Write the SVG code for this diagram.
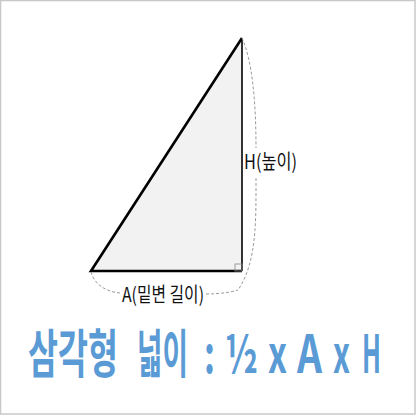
<svg xmlns="http://www.w3.org/2000/svg" width="416" height="416" viewBox="0 0 416 416">
<style>
.dash{fill:none;stroke:#9a9a9a;stroke-width:1;stroke-dasharray:3 2}
.lbl{font-family:"Noto Sans CJK KR","Noto Sans",sans-serif;font-size:20px;fill:#111}
.title{font-family:"Noto Sans CJK KR","Noto Sans",sans-serif;font-size:52px;font-weight:bold;fill:#5b9bd5}
</style>
<rect x="0.5" y="0.5" width="414.5" height="413.5" fill="#fff" stroke="#c8c8c8" stroke-width="1.5"/>
<g id="triangle">
<polygon points="91,271 242,271 242,38" fill="#f2f2f2" stroke="none"/>
<line x1="242" y1="38" x2="242" y2="271" stroke="#000" stroke-width="1.6"/>
<polyline points="242,38 91,271 242,271" fill="none" stroke="#000" stroke-width="2.6" stroke-linejoin="miter"/>
<rect x="235" y="264" width="7" height="7" fill="none" stroke="#888" stroke-width="0.8"/>
</g>
<g id="connectors">
<path class="dash" d="M242,38 C252,60 256,100 256,148"/>
<path class="dash" d="M256,178 C256,220 257,262 238,290"/>
<path class="dash" d="M91,272 C95,286 108,292 120,293"/>
<path class="dash" d="M206,294 C220,294 232,292 238,290"/>
</g>
<g id="label-h">
<text class="lbl" x="244" y="169" textLength="53" lengthAdjust="spacingAndGlyphs">H(높이)</text>
</g>
<g id="label-a">
<text class="lbl" x="122" y="302" textLength="82" lengthAdjust="spacingAndGlyphs">A(밑변 길이)</text>
</g>
<g id="formula">
<text class="title" x="28" y="373" textLength="90" lengthAdjust="spacingAndGlyphs">삼각형</text>
<text class="title" x="137" y="373" textLength="51" lengthAdjust="spacingAndGlyphs">넓이</text>
<text class="title" x="204" y="373" textLength="11" lengthAdjust="spacingAndGlyphs">:</text>
<text class="title" x="225" y="373" textLength="33" lengthAdjust="spacingAndGlyphs">½</text>
<text class="title" x="268" y="373" textLength="19" lengthAdjust="spacingAndGlyphs">x</text>
<text class="title" x="297" y="373" textLength="25" lengthAdjust="spacingAndGlyphs">A</text>
<text class="title" x="333" y="373" textLength="17" lengthAdjust="spacingAndGlyphs">x</text>
<text class="title" x="362" y="373" textLength="19" lengthAdjust="spacingAndGlyphs">H</text>
</g>
</svg>
